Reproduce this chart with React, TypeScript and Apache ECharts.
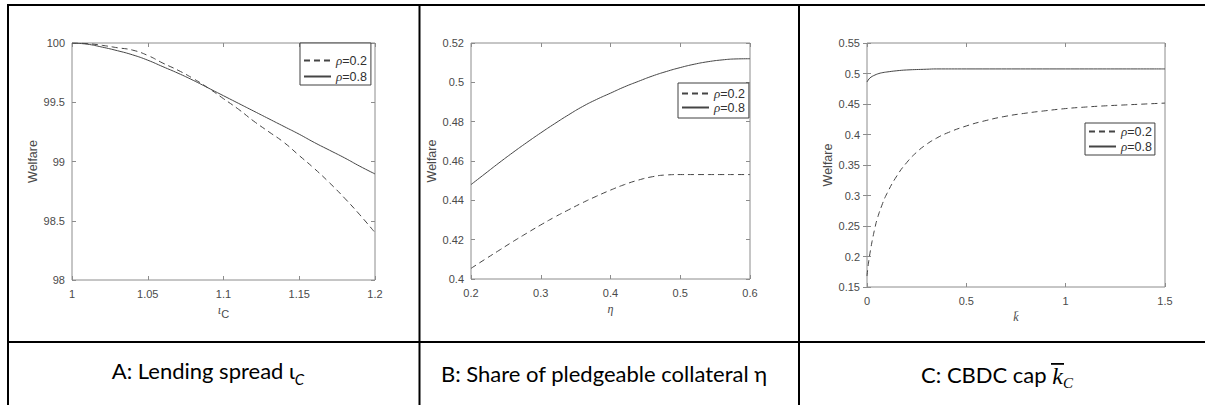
import { useEffect, useRef } from "react";
import * as echarts from "echarts";

const SERIES_NAMES = ["ρ=0.2", "ρ=0.8"];

// Panel A: lending spread
const spreadIota = [1.0, 1.01, 1.02, 1.03, 1.04, 1.05, 1.06, 1.07, 1.08, 1.09, 1.1, 1.11, 1.12, 1.13, 1.14, 1.15, 1.16, 1.17, 1.18, 1.19, 1.2];
const welfareA02 = [100.0, 99.995, 99.98, 99.96, 99.94, 99.895, 99.83, 99.77, 99.7, 99.62, 99.53, 99.44, 99.34, 99.25, 99.16, 99.05, 98.94, 98.82, 98.69, 98.55, 98.4];
const welfareA08 = [100.0, 99.99, 99.965, 99.935, 99.9, 99.855, 99.8, 99.745, 99.685, 99.62, 99.555, 99.49, 99.425, 99.36, 99.295, 99.23, 99.16, 99.095, 99.03, 98.96, 98.895];
const ticksAX = [1, 1.05, 1.1, 1.15, 1.2];
const ticksAY = [98, 98.5, 99, 99.5, 100];

// Panel B: share of pledgeable collateral
const pledgeEta = [0.2, 0.22, 0.24, 0.26, 0.28, 0.3, 0.32, 0.34, 0.36, 0.38, 0.4, 0.42, 0.44, 0.46, 0.48, 0.5, 0.52, 0.54, 0.56, 0.58, 0.6];
const welfareB02 = [0.4054, 0.41, 0.4145, 0.419, 0.4233, 0.4275, 0.4315, 0.4352, 0.4388, 0.4421, 0.4452, 0.448, 0.4503, 0.452, 0.4529, 0.4531, 0.4531, 0.4531, 0.4531, 0.4531, 0.4531];
const welfareB08 = [0.448, 0.4535, 0.459, 0.4643, 0.4694, 0.4743, 0.479, 0.4835, 0.4877, 0.4913, 0.4945, 0.4977, 0.5005, 0.5032, 0.5055, 0.5075, 0.5092, 0.5105, 0.5114, 0.5119, 0.512];
const ticksBX = [0.2, 0.3, 0.4, 0.5, 0.6];
const ticksBY = [0.4, 0.42, 0.44, 0.46, 0.48, 0.5, 0.52];

// Panel C: CBDC cap
const capLow = [0, 0.005, 0.01, 0.02, 0.03, 0.04, 0.05, 0.075, 0.1, 0.15, 0.2, 0.25, 0.3, 0.35, 0.4, 0.5, 0.6, 0.7, 0.8, 0.9, 1.0, 1.1, 1.2, 1.3, 1.4, 1.5];
const welfareC02 = [0.168, 0.183, 0.195, 0.215, 0.232, 0.247, 0.26, 0.284, 0.303, 0.332, 0.354, 0.371, 0.384, 0.394, 0.402, 0.414, 0.423, 0.43, 0.435, 0.439, 0.4425, 0.445, 0.447, 0.4485, 0.45, 0.4515];
const capHigh = [0, 0.01, 0.02, 0.04, 0.06, 0.08, 0.1, 0.15, 0.2, 0.3, 0.35, 0.5, 1.0, 1.5];
const welfareC08 = [0.486, 0.491, 0.494, 0.4975, 0.5, 0.5015, 0.5025, 0.5045, 0.5058, 0.507, 0.5075, 0.5075, 0.5075, 0.5075];
const ticksCX = [0, 0.5, 1, 1.5];
const ticksCY = [0.15, 0.2, 0.25, 0.3, 0.35, 0.4, 0.45, 0.5, 0.55];

const BOX = "#8c8c8c";
const LABEL = "#4a4a4a";
const LINE = "#454545";
const SANS = "'Liberation Sans', Arial, sans-serif";
const SERIF = "'Liberation Serif', 'DejaVu Serif', serif";
const CAP = "Lato, 'Open Sans', sans-serif";

const step = (t: number[]) => Math.round((t[1] - t[0]) * 1e6) / 1e6;
const fmt = (v: number) => String(Math.round(v * 1000) / 1000);

function App() {
  const ref = useRef<HTMLDivElement>(null);
  useEffect(() => {
    if (!ref.current) return;
    const chart = echarts.init(ref.current, undefined, { renderer: "svg" });

    const grids = [
      { left: 72, top: 43, width: 303, height: 237 },
      { left: 471, top: 43, width: 279, height: 236 },
      { left: 867, top: 43, width: 298, height: 244 },
    ];
    const xTicks = [ticksAX, ticksBX, ticksCX];
    const yTicks = [ticksAY, ticksBY, ticksCY];
    const xNames = ["{i|ι}{c|C}", "{e|η}", "{k|k̄}"];
    const xNameGaps = [23, 24, 22];
    const yNameGaps = [29, 27, 32];

    const xAxis: any[] = [];
    const yAxis: any[] = [];
    grids.forEach((_, i) => {
      const xt = xTicks[i];
      const yt = yTicks[i];
      const common = {
        gridIndex: i,
        splitLine: { show: false },
        axisLine: { show: false },
        axisTick: { show: true, inside: true, length: 4, lineStyle: { color: BOX, width: 1 } },
      };
      xAxis.push({
        ...common,
        type: "value",
        position: "bottom",
        min: xt[0],
        max: xt[xt.length - 1],
        interval: step(xt),
        axisLabel: { show: true, margin: 8, color: LABEL, fontSize: 11, fontFamily: SANS, formatter: fmt },
        name: xNames[i],
        nameLocation: "middle",
        nameGap: xNameGaps[i],
        nameTextStyle: {
          color: LABEL,
          rich: {
            i: { fontSize: 12, fontStyle: "italic", fontFamily: SERIF, color: LABEL, lineHeight: 12, verticalAlign: "top" },
            c: { fontSize: 11, fontFamily: SANS, color: LABEL, lineHeight: 16, verticalAlign: "bottom" },
            e: { fontSize: 12, fontStyle: "italic", fontFamily: SERIF, color: LABEL },
            k: { fontSize: 12, fontStyle: "italic", fontFamily: SERIF, color: LABEL },
          },
        },
      });
      xAxis.push({
        ...common,
        type: "value",
        position: "top",
        min: xt[0],
        max: xt[xt.length - 1],
        interval: step(xt),
        axisLabel: { show: false },
      });
      yAxis.push({
        ...common,
        type: "value",
        position: "left",
        min: yt[0],
        max: yt[yt.length - 1],
        interval: step(yt),
        axisLabel: { show: true, margin: 7, color: LABEL, fontSize: 11, fontFamily: SANS, formatter: fmt },
        name: "Welfare",
        nameLocation: "middle",
        nameGap: yNameGaps[i],
        nameTextStyle: { color: LABEL, fontSize: 12.5, fontFamily: SANS },
      });
      yAxis.push({
        ...common,
        type: "value",
        position: "right",
        min: yt[0],
        max: yt[yt.length - 1],
        interval: step(yt),
        axisLabel: { show: false },
      });
    });

    const pairs = (xs: number[], ys: number[]) => xs.map((x, k) => [x, ys[k]]);
    const panelData = [
      [pairs(spreadIota, welfareA02), pairs(spreadIota, welfareA08)],
      [pairs(pledgeEta, welfareB02), pairs(pledgeEta, welfareB08)],
      [pairs(capLow, welfareC02), pairs(capHigh, welfareC08)],
    ];
    const series: any[] = [];
    panelData.forEach((pd, i) => {
      pd.forEach((data, j) => {
        series.push({
          type: "line",
          name: SERIES_NAMES[j],
          xAxisIndex: 2 * i,
          yAxisIndex: 2 * i,
          data,
          symbol: "none",
          smooth: true,
          color: LINE,
          lineStyle: { color: LINE, width: 1, type: j === 0 ? [6, 4] : "solid" },
        });
      });
    });

    const legendPos = [
      { left: 300, top: 43, padding: [11, 4, 2, 3], itemGap: 3 },
      { left: 678, top: 83, padding: [4, 4, 4, 3], itemGap: 1 },
      { left: 1085, top: 123, padding: [2, 3, 2, 3], itemGap: 2 },
    ];
    const legend = legendPos.map((p) => ({
      ...p,
      orient: "vertical",
      data: SERIES_NAMES,
      selectedMode: false,
      itemWidth: 27,
      itemHeight: 13,
      itemStyle: { opacity: 0, borderWidth: 0 },
      backgroundColor: "#ffffff",
      borderColor: "#404040",
      borderWidth: 1,
      formatter: (name: string) => `{r|ρ}{t|${name.slice(1)}}`,
      textStyle: {
        color: "#303030",
        fontSize: 12.5,
        fontFamily: SANS,
        rich: {
          r: { fontSize: 13, fontStyle: "italic", fontFamily: SERIF, color: "#303030" },
          t: { fontSize: 12.5, fontFamily: SANS, color: "#303030" },
        },
      },
    }));

    const graphic: any[] = [
      // table rules
      { type: "rect", shape: { x: 7, y: 4, width: 1198, height: 2 }, style: { fill: "#000" } },
      { type: "rect", shape: { x: 7, y: 4, width: 2, height: 401 }, style: { fill: "#000" } },
      { type: "rect", shape: { x: 418.5, y: 4, width: 2, height: 401 }, style: { fill: "#000" } },
      { type: "rect", shape: { x: 798, y: 4, width: 2, height: 401 }, style: { fill: "#000" } },
      { type: "rect", shape: { x: 7, y: 341, width: 1198, height: 2 }, style: { fill: "#000" } },
      // captions
      {
        type: "text",
        x: 208,
        y: 373,
        style: {
          text: "{n|A: Lending spread ι}{s|C}",
          align: "center",
          verticalAlign: "middle",
          rich: {
            n: { fontSize: 22, fontFamily: CAP, fill: "#000", lineHeight: 27, verticalAlign: "top" },
            s: { fontSize: 15, fontFamily: CAP, fontStyle: "italic", fill: "#000", lineHeight: 15, verticalAlign: "bottom" },
          },
        },
      },
      {
        type: "text",
        x: 604,
        y: 373,
        style: {
          text: "B: Share of pledgeable collateral η",
          align: "center",
          verticalAlign: "middle",
          font: `22px ${CAP}`,
          fill: "#000",
        },
      },
      {
        type: "text",
        x: 997,
        y: 377,
        style: {
          text: "{n|C: CBDC cap }{k|k}{s|C}",
          align: "center",
          verticalAlign: "middle",
          rich: {
            n: { fontSize: 22, fontFamily: CAP, fill: "#000", lineHeight: 27, verticalAlign: "top" },
            k: { fontSize: 24, fontFamily: SERIF, fontStyle: "italic", fill: "#000", lineHeight: 27, verticalAlign: "top" },
            s: { fontSize: 15, fontFamily: SERIF, fontStyle: "italic", fill: "#000", lineHeight: 15, verticalAlign: "bottom" },
          },
        },
      },
      { type: "rect", shape: { x: 1051, y: 363, width: 13, height: 1.8 }, style: { fill: "#000" } },
    ];

    chart.setOption({
      animation: false,
      backgroundColor: "#ffffff",
      grid: grids.map((g) => ({ ...g, show: true, borderColor: BOX, borderWidth: 1, backgroundColor: "transparent" })),
      xAxis,
      yAxis,
      legend,
      series,
      graphic,
    });
    return () => chart.dispose();
  }, []);
  return <div ref={ref} style={{ position: "absolute", left: 0, top: 0, width: 1205, height: 405, background: "#fff" }} />;
}

export default App;
